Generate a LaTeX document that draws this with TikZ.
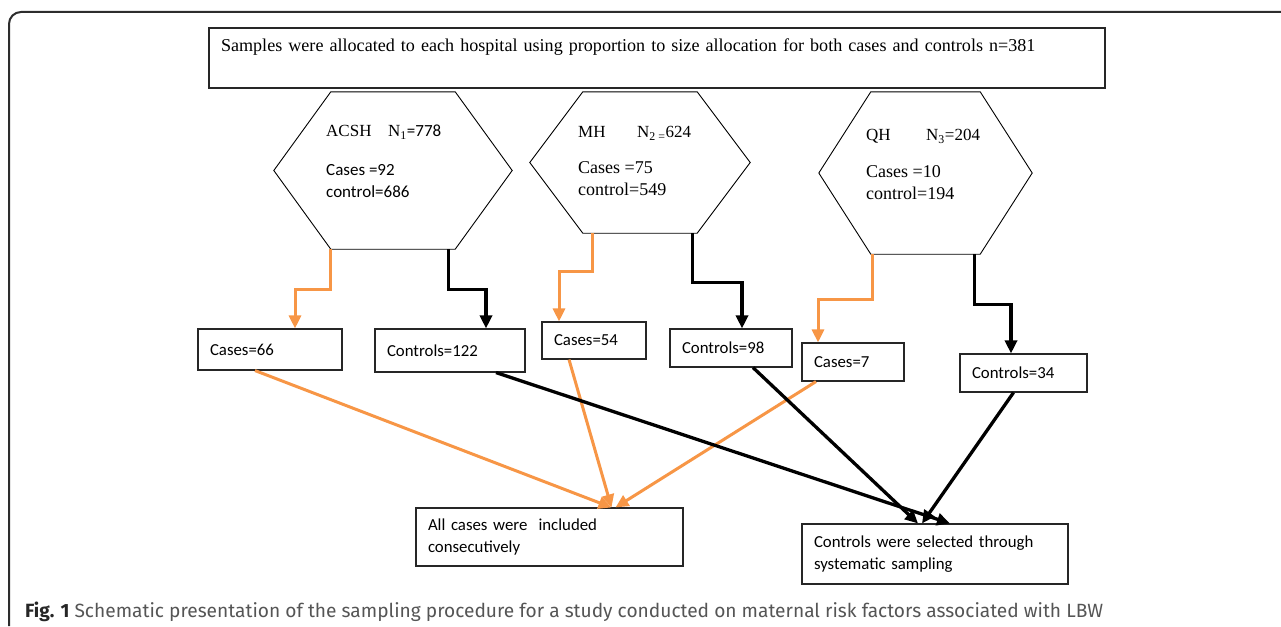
\documentclass[tikz,border=0pt]{standalone}
\usepackage{fontspec}
\setmainfont{Liberation Serif}
\newfontfamily\calibri{Carlito}
\newfontfamily\capfont{Fira Sans}
\usetikzlibrary{positioning,arrows.meta,calc}
\definecolor{caseorange}{RGB}{247,150,70}
\definecolor{framegray}{RGB}{45,45,45}
\definecolor{captiongray}{RGB}{85,85,85}
% hexagon around a named node: name, x, y, width, height, slant
\newcommand{\hospital}[6]{%
  \node[hexbox, minimum width=#4, minimum height=#5] (#1) at (#2,#3) {};
  \draw[hexline] ([xshift=#6]#1.north west) -- ([xshift=-#6]#1.north east) -- (#1.east)
    -- ([xshift=-#6]#1.south east) -- ([xshift=#6]#1.south west) -- (#1.west) -- cycle;}
\newcommand{\bigline}[1]{{\fontsize{18}{22}\selectfont #1}}

\begin{document}
\begin{tikzpicture}[x=1pt, y=-1pt,
    box/.style={rectangle, draw=black!85, line width=1.1pt, inner xsep=12pt, inner ysep=0pt, align=left, font=\calibri\fontsize{16.8}{22}\selectfont},
    hexbox/.style={rectangle, inner sep=0pt},
    hexline/.style={draw, line width=0.9pt},
    hextext/.style={anchor=north west, inner sep=0pt, align=left, font=\fontsize{17}{22}\selectfont},
    casearrow/.style={draw=caseorange, line width=3pt, -{Triangle[length=13pt,width=12pt]}},
    ctrlarrow/.style={draw=black, line width=3.3pt, -{Triangle[length=13pt,width=12pt]}}
]
    \useasboundingbox (0,0) rectangle (1281,626);
    \draw[framegray, line width=2pt, rounded corners=12pt] (1281,12) -- (9,12) -- (9,626);

    % Allocation
    \node[box, font=\fontsize{18.1}{26}\selectfont, text width=872, minimum height=60] (alloc) at (657,58)
        {Samples were allocated to each hospital using proportion to size allocation for both cases and controls n=381\\\mbox{}};

    % Hospitals
    \hospital{acsh}{393}{170.5}{238}{157}{57pt}
    \hospital{mh}{640}{162.5}{220}{141}{53pt}
    \hospital{qh}{925.5}{173}{213}{162}{52pt}
    \node[hextext] (acshtxt) at (326,125) {\makebox[62pt][l]{ACSH}N\textsubscript{1}{\calibri =778}\\[17pt] {\calibri Cases =92}\\ {\calibri control=686}};
    \node[hextext] (mhtxt) at (578,126) {\makebox[59pt][l]{MH}N\textsubscript{2 =}624\\[14pt] \bigline{Cases =75}\\ \bigline{control=549}};
    \node[hextext] (qhtxt) at (866,129) {\makebox[60pt][l]{QH}N\textsubscript{3}=204\\[15pt] \bigline{Cases =10}\\ \bigline{control=194}};

    % Samples per hospital
    \node[box, text width=120, minimum height=41] (c66) at (270,349.5) {Cases=66};
    \node[box, text width=126, minimum height=43] (k122) at (450,350.5) {Controls=122};
    \node[box, text width=80, minimum height=37] (c54) at (594,340.5) {Cases=54};
    \node[box, text width=98, minimum height=38] (k98) at (731,348) {Controls=98};
    \node[box, text width=78, minimum height=38] (c7) at (853,362) {Cases=7};
    \node[box, text width=103, minimum height=38] (k34) at (1023.5,373) {Controls=34};

    % Selection
    \node[box, text width=243, minimum height=58] (allc) at (549.5,537) {All cases were~ included\\consecutively};
    \node[box, text width=242, minimum height=60] (sysc) at (935,554) {Controls were selected through\\systematic sampling};

    % Caption
    \node[anchor=base west, inner sep=0pt, font=\capfont\fontsize{19.15}{22}\selectfont, text=captiongray] (cap) at (25,617)
        {{\bfseries\color{black!85}Fig. 1} Schematic presentation of the sampling procedure for a study conducted on maternal risk factors associated with LBW};

    % Edges
    \draw[casearrow] ([xshift=57pt]acsh.south west) -- ++(0,40) -| ([xshift=25pt]c66.north);
    \draw[ctrlarrow] ([xshift=-64pt]acsh.south east) -- ++(0,40) -| ([xshift=36pt]k122.north);
    \draw[casearrow] ([xshift=63pt]mh.south west) -- ++(0,38) -| ([xshift=-35pt]c54.north);
    \draw[ctrlarrow] ([xshift=-58pt]mh.south east) -- ++(0,49) -| ([xshift=11pt]k98.north);
    \draw[casearrow] ([xshift=54pt]qh.south west) -- ++(0,45) -| ([xshift=-35pt]c7.north);
    \draw[ctrlarrow] ([xshift=-58pt]qh.south east) -- ++(0,50) -| ([xshift=-12.5pt]k34.north);

    \draw[casearrow] ([xshift=-15pt]c66.south) -- ([xshift=62pt]allc.north);
    \draw[casearrow] ([xshift=-25pt]c54.south) -- ([xshift=62pt]allc.north);
    \draw[casearrow] ([xshift=-37pt]c7.south) -- ([xshift=66pt]allc.north);
    \draw[ctrlarrow] ([xshift=46pt]k122.south) -- ([xshift=15pt]sysc.north);
    \draw[ctrlarrow] ([xshift=22pt]k98.south) -- ([xshift=-17pt]sysc.north);
    \draw[ctrlarrow] ([xshift=-10pt]k34.south) -- ([xshift=-13pt]sysc.north);
\end{tikzpicture}
\end{document}
